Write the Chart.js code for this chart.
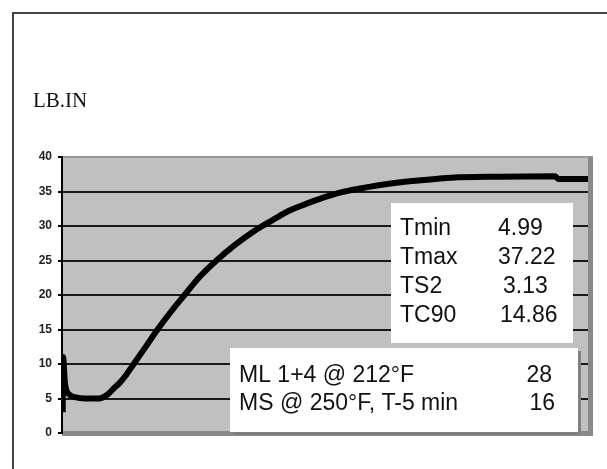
<!DOCTYPE html>
<html>
<head>
<meta charset="utf-8">
<script src="https://cdn.jsdelivr.net/npm/chart.js@4/dist/chart.umd.min.js"></script>
<style>
    html, body { margin: 0; padding: 0; background: #fff; }
</style>
</head>
<body>
<canvas id="cureChart" width="607" height="469"></canvas>
<script>
// cure curve, time in minutes vs torque in lb.in
const timeMin = [0.04, 0.06, 0.17, 0.45, 0.74, 1.31, 1.88, 2.27, 2.61, 3.01, 3.30, 3.58, 4.09, 4.72, 5.45, 6.19, 6.99, 7.84, 8.81, 9.83, 10.80, 11.42, 12.10, 12.95, 13.81, 14.66, 15.97, 16.93, 18.07, 19.20, 20.34, 22.22, 24.89, 28.13, 28.3, 30];
const torque = [3, 11, 7.2, 5.5, 5.2, 5.0, 4.99, 5.1, 5.6, 6.6, 7.3, 8.15, 10, 12.3, 15, 17.5, 20, 22.6, 25, 27.2, 29.0, 30, 31, 32.2, 33.1, 33.9, 34.9, 35.4, 35.9, 36.3, 36.6, 37.0, 37.15, 37.22, 36.8, 36.8];
const yTicks = [0, 5, 10, 15, 20, 25, 30, 35, 40];
const yUnit = 'LB.IN';

const statLabels = ['Tmin', 'Tmax', 'TS2', 'TC90'];
const statValues = ['4.99', '37.22', '3.13', '14.86'];
const viscLabels = ['ML 1+4 @ 212°F', 'MS @ 250°F, T-5 min'];
const viscValues = ['28', '16'];

const panelPlugin = {
    id: 'panel',
    beforeDraw(chart) {
        const c = chart.ctx;
        const a = chart.chartArea;
        c.save();
        c.fillStyle = '#fff';
        c.fillRect(0, 0, chart.width, chart.height);
        // outer frame
        c.fillStyle = '#444';
        c.fillRect(12, 12, chart.width - 12, 2);
        c.fillRect(12, 12, 2, chart.height - 12);
        // plot background + 3d edges
        c.fillStyle = '#c0c0c0';
        c.fillRect(a.left, a.top, a.right - a.left, a.bottom - a.top);
        c.fillStyle = '#999';
        c.fillRect(a.left, a.top - 1, a.right - a.left + 5, 2);
        c.fillStyle = '#8a8a8a';
        c.fillRect(a.right, a.top, 5, a.bottom - a.top + 3);
        c.fillRect(a.left, a.bottom - 2, a.right - a.left + 5, 5);
        c.restore();
    },
    afterDraw(chart) {
        const c = chart.ctx;
        c.save();
        c.fillStyle = '#111';
        c.font = '21px "Liberation Serif", "Times New Roman", serif';
        c.textBaseline = 'alphabetic';
        c.fillText(yUnit, 33, 107);

        // stats box
        c.fillStyle = '#fff';
        c.fillRect(391, 203, 182, 140);
        c.fillStyle = '#111';
        c.font = '23px "Liberation Sans", Arial, sans-serif';
        const valX = [498, 498, 503, 500];
        statLabels.forEach((lab, i) => {
            const y = 235 + i * 29;
            c.fillText(lab, 400, y);
            c.fillText(statValues[i], valX[i], y);
        });

        // viscosity box with shadow
        c.fillStyle = '#808080';
        c.fillRect(233, 351, 348, 84);
        c.fillStyle = '#fff';
        c.fillRect(230, 348, 348, 84);
        c.fillStyle = '#111';
        const rightX = [552, 555];
        viscLabels.forEach((lab, i) => {
            const y = 382 + i * 28;
            c.textAlign = 'left';
            c.fillText(lab, 239, y);
            c.textAlign = 'right';
            c.fillText(viscValues[i], rightX[i], y);
        });
        c.restore();
    }
};

const ctx = document.getElementById('cureChart').getContext('2d');
new Chart(ctx, {
    type: 'line',
    data: {
        datasets: [{
            data: timeMin.map((t, i) => ({ x: t, y: torque[i] })),
            borderColor: '#000',
            borderWidth: 6,
            pointRadius: 0,
            cubicInterpolationMode: 'monotone',
            fill: false
        }]
    },
    options: {
        responsive: false,
        devicePixelRatio: 1,
        animation: false,
        layout: { padding: { left: 0, right: 19, top: 157, bottom: 36 } },
        plugins: { legend: { display: false }, tooltip: { enabled: false } },
        scales: {
            x: { type: 'linear', min: 0, max: 30, display: false },
            y: {
                type: 'linear',
                min: 0,
                max: 40,
                afterFit: (s) => { s.width = 62; },
                afterBuildTicks: (s) => { s.ticks = yTicks.map(v => ({ value: v })); },
                border: { display: true, color: '#000', width: 2 },
                grid: {
                    color: (g) => (g.tick && (g.tick.value === 0 || g.tick.value === 40)) ? 'rgba(0,0,0,0)' : '#1a1a1a',
                    lineWidth: 2,
                    tickColor: '#000',
                    tickLength: 4,
                    drawOnChartArea: true
                },
                ticks: {
                    padding: 6,
                    color: '#222',
                    font: { family: '"Liberation Sans", Arial, sans-serif', size: 12, weight: 'bold' }
                }
            }
        }
    },
    plugins: [panelPlugin]
});
</script>
</body>
</html>
